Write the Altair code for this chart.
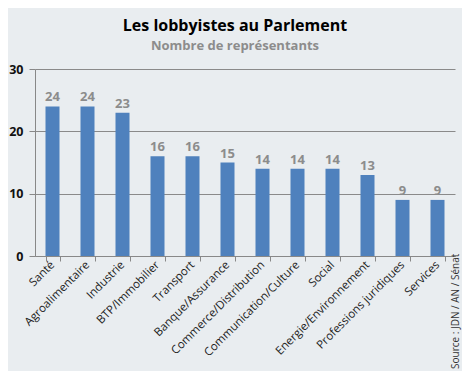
import altair as alt
import pandas as pd

categories = ["Santé", "Agroalimentaire", "Industrie", "BTP/Immobilier", "Transport",
              "Banque/Assurance", "Commerce/Distribution", "Communication/Culture",
              "Social", "Energie/Environnement", "Professions juridiques", "Services"]
values = [24, 24, 23, 16, 16, 15, 14, 14, 14, 13, 9, 9]
y_ticks = [0, 10, 20, 30]
title = "Les lobbyistes au Parlement"
subtitle = "Nombre de représentants"
source = "Source : JDN / AN / Sénat"

df = pd.DataFrame({"cat": categories, "val": values})
FONT = "Open Sans"

x = alt.X("cat:N", sort=categories, title=None,
          scale=alt.Scale(paddingInner=0.6, paddingOuter=0.3),
          axis=alt.Axis(labelAngle=-45, labelAlign="right", labelBaseline="middle",
                        labelFontSize=11.5, labelColor="#222", labelFont=FONT,
                        tickBand="extent", tickSize=5, tickColor="#888",
                        domainColor="#888", labelPadding=2))
y = alt.Y("val:Q", title=None,
          scale=alt.Scale(domain=[0, 30]),
          axis=alt.Axis(values=y_ticks, labelFontSize=12.5, labelFontWeight="bold",
                        labelFont=FONT, labelColor="#111", tickSize=6, tickColor="#888",
                        domainColor="#888", gridColor="#8a8a8a", labelPadding=6))

base = alt.Chart(df)
bars = base.mark_bar(color="#4F81BD", size=14).encode(x=x, y=y)
labels = base.mark_text(dy=-9, fontSize=13, fontWeight="bold", color="#8c8c8c",
                        font=FONT).encode(x=alt.X("cat:N", sort=categories), y="val:Q",
                                          text="val:Q")
src = alt.Chart(pd.DataFrame({"t": [source]})).mark_text(
    angle=270, align="left", baseline="middle", fontSize=10, color="#333", font=FONT
).encode(x=alt.value(421), y=alt.value(300), text="t:N")

chart = alt.layer(bars, labels, src).properties(
    width=420, height=187,
    title=alt.TitleParams(title, subtitle=subtitle, anchor="middle", dx=-10,
                          font=FONT, fontSize=16, fontWeight="bold", color="#000",
                          subtitleFont=FONT, subtitleFontSize=13,
                          subtitleFontWeight="bold", subtitleColor="#8c8c8c",
                          offset=10, subtitlePadding=6),
    autosize=alt.AutoSizeParams(type="none"),
    padding={"left": 27, "top": 61, "right": 7, "bottom": 115},
    background="#e9edf0",
).configure_view(stroke=None)

chart.save("out.html", embed_options={"renderer": "svg", "actions": False})
